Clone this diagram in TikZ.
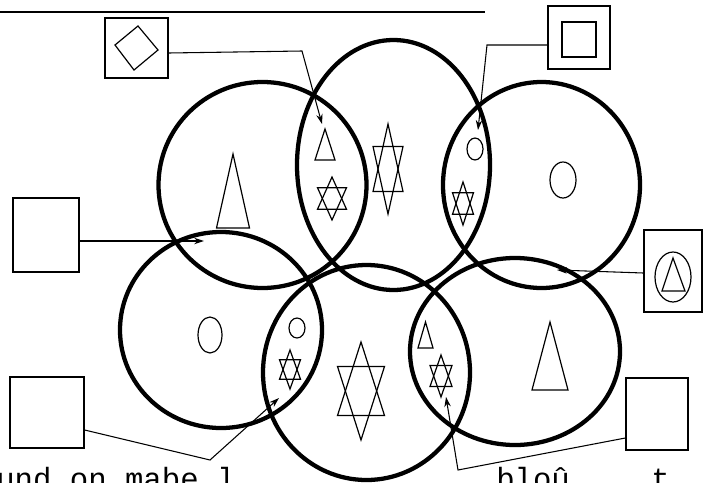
\documentclass[tikz,border=0pt]{standalone}
\usepackage{fontspec}
\setmonofont{Liberation Mono}
\usetikzlibrary{
    arrows.meta,
    shapes.geometric
}

\begin{document}
\begin{tikzpicture}[
        x=0.75pt, y=-0.75pt,
        ring/.style={
            ellipse,
            draw=black,
            line width=3.2pt,
            inner sep=0pt
        },
        frame/.style={
            rectangle,
            draw=black,
            line width=1pt,
            inner sep=0pt
        },
        symbol/.style={
            draw=black,
            line width=0.9pt
        },
        arrow/.style={
            -{Stealth[length=2.6mm,width=1.7mm]},
            line width=0.8pt,
            draw=black
        },
        hexstar/.pic={
            \draw[symbol] (0,-0.5) -- (-0.5,0.25) -- (0.5,0.25) -- cycle;
            \draw[symbol] (0,0.5) -- (-0.5,-0.25) -- (0.5,-0.25) -- cycle;
        },
        tri/.pic={
            \draw[symbol] (0,-0.5) -- (-0.5,0.5) -- (0.5,0.5) -- cycle;
        }
    ]

    \useasboundingbox (0,0) rectangle (703,482);

    % rule and cut-off lines of text
    \draw[line width=1.8pt] (0,12) -- (485,12);
    \node[anchor=base west, inner sep=0pt, font=\ttfamily\fontsize{23pt}{23pt}\selectfont]
        (textleft) at (-4,489) {und on mabe l};
    \node[anchor=base west, inner sep=0pt, font=\ttfamily\fontsize{23pt}{23pt}\selectfont]
        (textright) at (496,489) {blo\^u};
    \node[anchor=base west, inner sep=0pt, font=\ttfamily\fontsize{23pt}{23pt}\selectfont]
        (textend) at (651,489) {t};

    % rings
    \node[ring, minimum width=156pt, minimum height=154.5pt] (tl) at (262.5,185) {};
    \node[ring, minimum width=144.75pt, minimum height=187.5pt] (tm) at (393.5,165) {};
    \node[ring, minimum width=147.75pt, minimum height=154.5pt] (tr) at (541.5,185) {};
    \node[ring, minimum width=151.5pt, minimum height=147pt] (bl) at (221,330) {};
    \node[ring, minimum width=155.25pt, minimum height=161.25pt] (bm) at (366.5,372.5) {};
    \node[ring, minimum width=157.5pt, minimum height=140.25pt] (br) at (515,351.5) {};

    % symbols inside the rings
    \pic[xscale=33, yscale=74] at (233,191) {tri};
    \pic[xscale=30, yscale=90] at (388,169) {hexstar};
    \draw[symbol] (563,180) ellipse [x radius=13, y radius=18];
    \draw[symbol] (210,335) ellipse [x radius=12, y radius=18];
    \pic[xscale=47, yscale=98] at (361,391) {hexstar};
    \pic[xscale=36, yscale=68] at (550,356) {tri};

    % symbols in the overlaps
    \pic[xscale=20, yscale=31] at (325,144.5) {tri};
    \pic[xscale=29, yscale=43] at (332,198.5) {hexstar};
    \draw[symbol] (475,149) ellipse [x radius=8, y radius=11];
    \pic[xscale=21, yscale=43] at (463,203.5) {hexstar};
    \draw[symbol] (297,328) ellipse [x radius=8, y radius=10];
    \pic[xscale=21, yscale=39] at (290,369.5) {hexstar};
    \pic[xscale=15, yscale=26] at (425.5,335) {tri};
    \pic[xscale=22, yscale=42] at (441,376) {hexstar};

    % boxes
    \node[frame, minimum width=47.25pt, minimum height=45pt] (diamondbox) at (136.5,48) {};
    \draw[symbol] (138,26) -- (158,50) -- (134,70) -- (115,45) -- cycle;

    \node[frame, minimum width=46.5pt, minimum height=47.25pt] (squarebox) at (579,37.5) {};
    \node[frame, minimum width=25.5pt, minimum height=26.25pt] (innersquare) at (579,39.5) {};

    \node[frame, minimum width=49.5pt, minimum height=55.5pt] (leftbox) at (46,235) {};

    \node[frame, minimum width=43.5pt, minimum height=61.5pt] (eggbox) at (673,271) {};
    \draw[symbol] (673,277) ellipse [x radius=18, y radius=25];
    \draw[symbol] (673,258) -- (662,291) -- (685,291) -- cycle;

    \node[frame, minimum width=55.5pt, minimum height=53.25pt] (lowleftbox) at (47,412.5) {};
    \node[frame, minimum width=46.5pt, minimum height=54pt] (lowrightbox) at (657,414) {};

    % connectors
    \coordinate (bendA) at (302,51);
    \coordinate (tipA) at (322,124);
    \draw[arrow] (diamondbox.east |- 0,53) -- (bendA) -- (tipA);

    \coordinate (bendB) at (487,45);
    \coordinate (tipB) at (478,130);
    \draw[arrow] (squarebox.west |- 0,45) -- (bendB) -- (tipB);

    \coordinate (tipC) at (204,241);
    \draw[arrow] (leftbox.east |- 0,241) -- (tipC);

    \coordinate (tipD) at (557,270);
    \draw[arrow] (eggbox.west |- 0,273) -- (tipD);

    \coordinate (bendE) at (210,460);
    \coordinate (tipE) at (279,398);
    \draw[arrow] (lowleftbox.east |- 0,430) -- (bendE) -- (tipE);

    \coordinate (bendF) at (458,470);
    \coordinate (tipF) at (446,397);
    \draw[arrow] (lowrightbox.west |- 0,438) -- (bendF) -- (tipF);

\end{tikzpicture}
\end{document}
